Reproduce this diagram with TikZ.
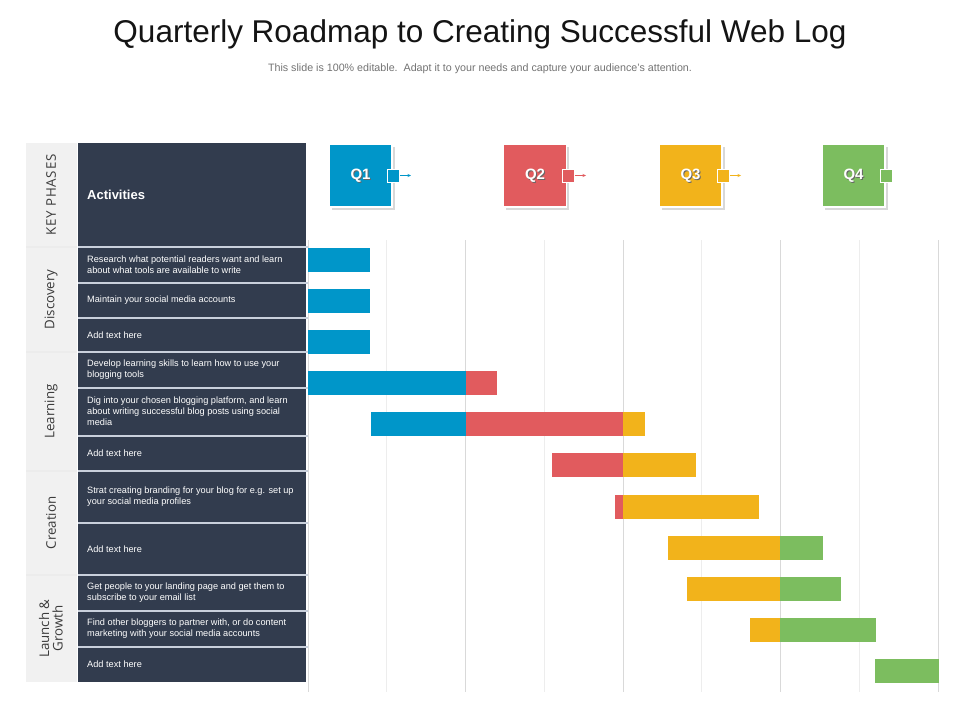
\documentclass[tikz,border=0pt]{standalone}
\usepackage{fontspec}
\setmainfont{Liberation Sans}
\newfontfamily\phasefont{Open Sans}
\newfontfamily\phasefontwide[LetterSpace=6]{Open Sans}
\usetikzlibrary{shadows,arrows.meta}
\definecolor{qblue}{HTML}{0096C9}
\definecolor{qred}{HTML}{E15B5E}
\definecolor{qyellow}{HTML}{F2B31B}
\definecolor{qgreen}{HTML}{7CBD5F}
\definecolor{navy}{HTML}{323C4E}
\definecolor{phasebg}{HTML}{F1F1F1}
\definecolor{gridq}{HTML}{D9D9D9}
\definecolor{gridm}{HTML}{EDEDED}
\definecolor{sepc}{HTML}{C9D0DC}
\definecolor{titlec}{HTML}{141414}
\definecolor{phasetxt}{HTML}{3A3A3A}
\begin{document}
\begin{tikzpicture}[x=1pt,y=-1pt,
  acttext/.style={anchor=west,align=left,text=white,inner sep=0pt,font=\fontsize{9.2}{11}\selectfont},
  phaselabel/.style={rotate=90,align=center,text=phasetxt,inner sep=0pt,font=\phasefont\fontsize{13.3}{13.5}\selectfont},
  qbox/.style={draw=white,line width=1.5pt,minimum width=63pt,minimum height=63pt,inner sep=0pt,
    drop shadow={shadow xshift=2.5pt,shadow yshift=-2.5pt,opacity=0.25,fill=black!60}},
  qport/.style={draw=white,line width=1pt,minimum width=12pt,minimum height=13pt,inner sep=0pt},
  qlabel/.style={text=white,inner sep=0pt,font=\bfseries\fontsize{15}{16}\selectfont},
  qshade/.style={text=black!60,inner sep=0pt,font=\bfseries\fontsize{15}{16}\selectfont},
  qarrow/.style={line width=0.7pt,-{Stealth[length=3.5pt,width=3pt]}}
]
\useasboundingbox (0,0) rectangle (960,720);
\fill[white] (0,0) rectangle (960,720);

% title
\node[text=titlec,inner sep=0pt,anchor=base] (title) at (480,42) {\fontsize{31.5}{36}\selectfont Quarterly Roadmap to Creating Successful Web Log};
\node[text=black!55,inner sep=0pt,anchor=base] (subtitle) at (480,71) {\fontsize{10.7}{12}\selectfont This slide is 100\% editable.\ \ Adapt it to your needs and capture your audience's attention.};

% grid lines
\foreach \k in {0,...,8}{
  \pgfmathsetmacro{\gx}{308+\k*78.75}
  \pgfmathtruncatemacro{\odd}{mod(\k,2)}
  \ifnum\odd=1
    \draw[gridm,line width=1pt] (\gx,240) -- (\gx,692);
  \else
    \draw[gridq,line width=1pt] (\gx,240) -- (\gx,692);
  \fi
}

% table backgrounds
\fill[phasebg] (26,143) rectangle (77,682);
\fill[navy] (78,143) rectangle (306,682);

% row separators in activity column
\foreach \yy in {283,318,388,436,523,611,647}{
  \draw[sepc,line width=1.2pt] (78,\yy) -- (308,\yy);
}
% phase separators
\foreach \yy in {247,352,471,575}{
  \draw[white!85!gray,line width=1.5pt] (26,\yy) -- (77,\yy);
  \draw[sepc,line width=1.2pt] (78,\yy) -- (308,\yy);
}

% header
\node[anchor=west,text=white,inner sep=0pt,font=\bfseries\fontsize{13}{14}\selectfont] (activities) at (87,195) {Activities};
\node[phaselabel,font=\phasefontwide\fontsize{13.3}{13.5}\selectfont] (kp) at (51,195) {KEY PHASES};
\node[phaselabel] (discovery) at (51,299.5) {Discovery};
\node[phaselabel] (learning) at (51,411.5) {Learning};
\node[phaselabel] (creation) at (51,523) {Creation};
\node[phaselabel] (launch) at (51,628.5) {Launch \&\\Growth};

% activities
\node[acttext] (a1) at (87,265) {Research what potential readers want and learn\\about what tools are available to write};
\node[acttext] (a2) at (87,300.5) {Maintain your social media accounts};
\node[acttext] (a3) at (87,335) {Add text here};
\node[acttext] (a4) at (87,370) {Develop learning skills to learn how to use your\\blogging tools};
\node[acttext] (a5) at (87,411.5) {Dig into your chosen blogging platform, and learn\\about writing successful blog posts using social\\media};
\node[acttext] (a6) at (87,453.5) {Add text here};
\node[acttext] (a7) at (87,497) {Strat creating branding for your blog for e.g. set up\\your social media profiles};
\node[acttext] (a8) at (87,549.5) {Add text here};
\node[acttext] (a9) at (87,593) {Get people to your landing page and get them to\\subscribe to your email list};
\node[acttext] (a10) at (87,629) {Find other bloggers to partner with, or do content\\marketing with your social media accounts};
\node[acttext] (a11) at (87,664.5) {Add text here};

% quarter boxes
\foreach \q/\cx/\col in {1/360.5/qblue,2/535/qred,3/690.5/qyellow,4/853.5/qgreen}{
  \node[qbox,fill=\col] (Q\q) at (\cx,175.5) {};
  \node[qshade] (Q\q s) at ([xshift=1pt,yshift=-1pt]Q\q.center) {Q\q};
  \node[qlabel] (Q\q t) at (Q\q.center) {Q\q};
  \node[qport,fill=\col] (P\q) at ([xshift=1pt]Q\q.east) {};
}
\coordinate (E1) at (411,175.5);
\coordinate (E2) at (586,175.5);
\coordinate (E3) at (741,175.5);
\draw[qarrow,qblue] (P1.east) -- (E1);
\draw[qarrow,qred] (P2.east) -- (E2);
\draw[qarrow,qyellow] (P3.east) -- (E3);

% bars
\def\bh{24}
\newcommand{\gbar}[4]{\fill[#4] (#1,#3) rectangle (#2,#3+\bh);}
\gbar{308}{370}{248}{qblue}
\gbar{308}{370}{289}{qblue}
\gbar{308}{370}{330}{qblue}
\gbar{308}{466}{371}{qblue}
\gbar{466}{497}{371}{qred}
\gbar{371}{466}{412}{qblue}
\gbar{466}{623}{412}{qred}
\gbar{623}{645}{412}{qyellow}
\gbar{552}{623}{453}{qred}
\gbar{623}{696}{453}{qyellow}
\gbar{615}{623}{494.5}{qred}
\gbar{623}{759}{494.5}{qyellow}
\gbar{668}{780}{535.5}{qyellow}
\gbar{780}{823}{535.5}{qgreen}
\gbar{687}{780}{576.5}{qyellow}
\gbar{780}{841}{576.5}{qgreen}
\gbar{750}{780}{617.5}{qyellow}
\gbar{780}{876}{617.5}{qgreen}
\gbar{875}{939}{658.5}{qgreen}
\end{tikzpicture}
\end{document}
